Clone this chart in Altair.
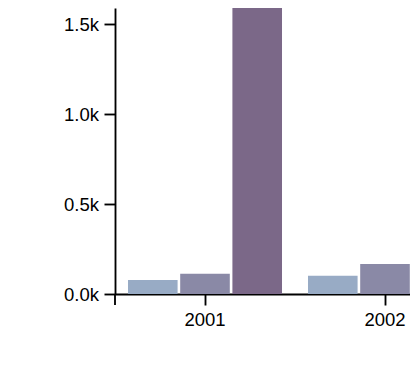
import altair as alt
import pandas as pd

# Data (the third series is clipped above the top of the view)
years = ["2001", "2002"]
series = ["Group A", "Group B", "Group C"]
values_a = [78, 102]
values_b = [113, 167]
values_c = [2100, 2300]
colors = ["#98abc5", "#8a89a6", "#7b6888"]
y_ticks = [0, 500, 1000, 1500]

rows = []
for i, yr in enumerate(years):
    for s, vals in zip(series, [values_a, values_b, values_c]):
        rows.append({"year": yr, "series": s, "value": vals[i]})
df = pd.DataFrame(rows)

FONT = "Liberation Sans"
FS = 18.5
SW = 1.85

bars = alt.Chart(df).mark_bar(clip=True).encode(
    x=alt.X(
        "year:N",
        sort=years,
        scale=alt.Scale(domain=years, range=[0, 360], paddingInner=0.1444, paddingOuter=0.0722),
        axis=alt.Axis(
            title=None, labelAngle=0, tickSize=11, tickWidth=SW, domainWidth=SW,
            domainColor="black", tickColor="black", labelColor="black",
            labelFont=FONT, labelFontSize=FS, labelPadding=5.5, grid=False,
        ),
    ),
    xOffset=alt.XOffset("series:N", sort=series,
                        scale=alt.Scale(domain=series, paddingInner=0.05, paddingOuter=0)),
    y=alt.Y(
        "value:Q",
        scale=alt.Scale(domain=[0, 1588.9], nice=False, zero=True),
        axis=alt.Axis(
            title=None, values=y_ticks,
            labelExpr="format(datum.value / 1000, '.1f') + 'k'",
            tickSize=11, tickWidth=SW, domainWidth=SW,
            domainColor="black", tickColor="black", labelColor="black",
            labelFont=FONT, labelFontSize=FS, labelPadding=5.5, grid=False,
        ),
    ),
    color=alt.Color("series:N", scale=alt.Scale(domain=series, range=colors), legend=None),
)

# outer tick at the start of the x-axis domain (as in a D3 axis path)
outer_tick = alt.Chart(alt.Data(values=[{}])).mark_rule(color="black", strokeWidth=SW).encode(
    x=alt.value(0), y=alt.value(286), y2=alt.value(297)
)

chart = alt.layer(bars, outer_tick).properties(
    width=295,
    height=286,
    autosize=alt.AutoSizeParams(type="none"),
    padding={"left": 107, "top": 0, "right": 0, "bottom": 40},
).configure_view(stroke=None)

chart.save("out.html", embed_options={"renderer": "svg", "actions": False})
